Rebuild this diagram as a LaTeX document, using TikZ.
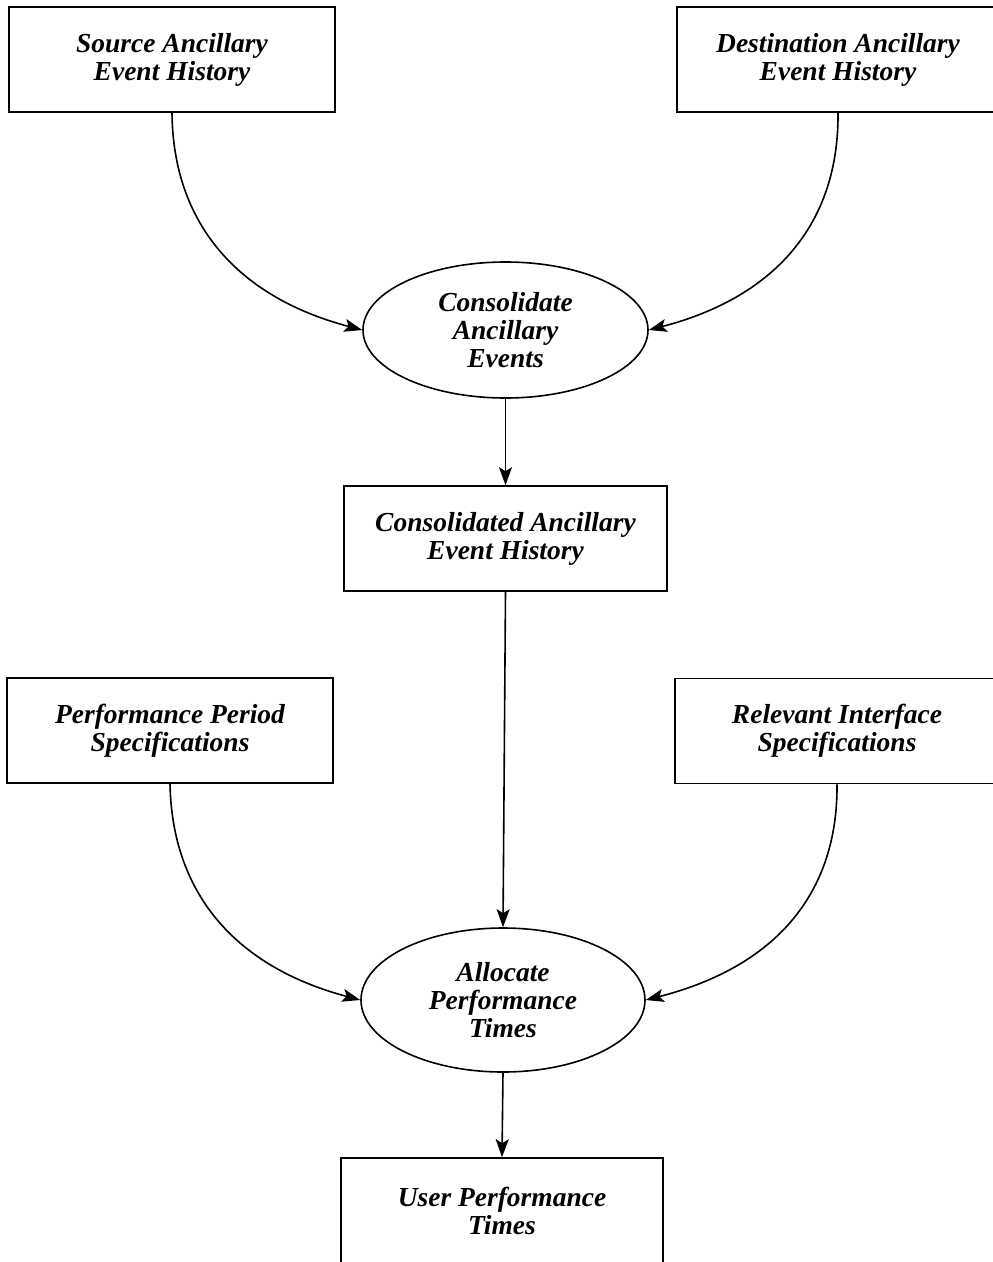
\documentclass[tikz,border=0pt]{standalone}
\usepackage{fontspec}
\setmainfont{Liberation Serif}
\usetikzlibrary{shapes.geometric,arrows.meta}
\begin{document}
\begin{tikzpicture}[x=1pt,y=-1pt,
  line width=1.6pt,
  lbl/.style={font=\fontsize{27.5}{28}\selectfont\bfseries\itshape, align=center},
  store/.style={lbl, draw, rectangle, inner sep=0pt, minimum height=105pt},
  proc/.style={lbl, draw, ellipse, inner sep=0pt},
  flow/.style={-{Stealth[length=18pt,width=13pt,inset=4pt]}}]
\clip (0,0) rectangle (993,1262);

% data stores
\node[store, minimum width=326pt] (src) at (172,59.5) {Source Ancillary\\Event History};
\node[store, minimum width=322pt] (dst) at (838,59.5) {Destination Ancillary\\Event History};
\node[store, minimum width=323pt] (cah) at (505.5,538.5) {Consolidated Ancillary\\Event History};
\node[store, minimum width=326pt] (pps) at (170,730.5) {Performance Period\\Specifications};
\node[store, minimum width=324pt] (ris) at (837,731) {Relevant Interface\\Specifications};
\node[store, minimum width=322pt] (upt) at (502,1210.5) {User Performance\\Times};

% processes
\node[proc, minimum width=285pt, minimum height=136pt] (cons) at (505.5,330) {Consolidate\\Ancillary\\Events};
\node[proc, minimum width=284pt, minimum height=144pt] (alloc) at (503,1000) {Allocate\\Performance\\Times};

% flows
\draw[flow] (src.south) .. controls (173,223) and (237,297) .. (cons.west);
\draw[flow] (dst.south) .. controls (839,223) and (776,297) .. (cons.east);
\draw[flow] (cons.south) -- (cah.north);
\draw[flow] (cah.south) -- (alloc.north);
\draw[flow] (pps.south) .. controls (172,894) and (236,967) .. (alloc.west);
\draw[flow] (ris.south) .. controls (838,894) and (775,967) .. (alloc.east);
\draw[flow] (alloc.south) -- (upt.north);
\end{tikzpicture}
\end{document}
